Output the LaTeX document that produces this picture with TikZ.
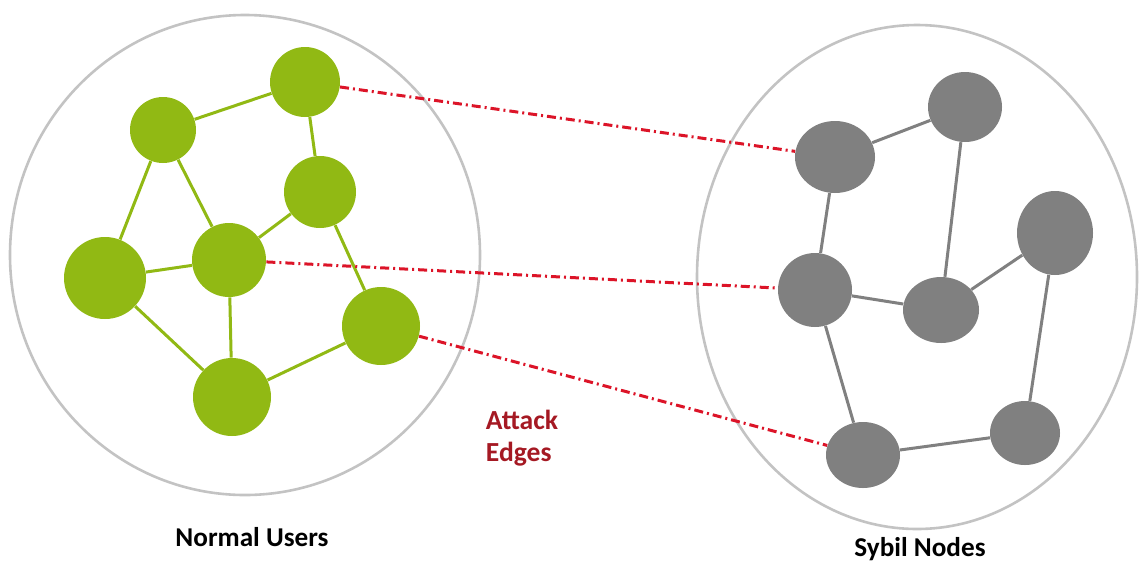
\documentclass[tikz,border=0pt]{standalone}
\usepackage{fontspec}
\setmainfont{Carlito}
\usetikzlibrary{shapes.geometric}
\definecolor{ugreen}{RGB}{145,185,20}
\definecolor{sgray}{RGB}{128,128,128}
\definecolor{ringgray}{RGB}{195,195,195}
\definecolor{atkred}{RGB}{220,20,40}
\definecolor{lblred}{RGB}{165,25,35}
\begin{document}
\begin{tikzpicture}[x=0.5pt,y=-0.5pt,
  ring/.style={draw=ringgray,line width=1.3pt,ellipse,inner sep=0pt},
  user/.style={circle,fill=ugreen,inner sep=0pt},
  sybil/.style={ellipse,fill=sgray,inner sep=0pt},
  uedge/.style={draw=ugreen,line width=1.5pt},
  sedge/.style={draw=sgray,line width=1.5pt},
  attack/.style={draw=atkred,line width=1.5pt,dash pattern=on 4.5pt off 2pt on 1pt off 2pt},
  lbl/.style={font=\bfseries\fontsize{13.6}{15}\selectfont,text=black}]
\useasboundingbox (0,0) rectangle (1144,563);
% rings
\node[ring,minimum width=235pt,minimum height=240pt] (L) at (245,255) {};
\node[ring,minimum width=220pt,minimum height=252pt] (R) at (917,277) {};
% user nodes
\node[user,minimum size=35pt] (A) at (305,82) {};
\node[user,minimum size=33pt] (B) at (163,130) {};
\node[user,minimum size=36pt] (C) at (320,192) {};
\node[user,minimum size=37pt] (D) at (229,260) {};
\node[user,minimum size=41pt] (E) at (105,278) {};
\node[user,minimum size=39pt] (F) at (381,326) {};
\node[user,minimum size=39pt] (G) at (232,397) {};
% sybil nodes
\node[sybil,minimum width=40pt,minimum height=36pt] (P) at (835,157) {};
\node[sybil,minimum width=37pt,minimum height=35pt] (Q) at (965,107) {};
\node[sybil,minimum width=38pt,minimum height=42pt] (S1) at (1055,233) {};
\node[sybil,minimum width=37pt,minimum height=37pt] (S) at (815,290) {};
\node[sybil,minimum width=38pt,minimum height=33pt] (T) at (941,310) {};
\node[sybil,minimum width=37pt,minimum height=33pt] (U) at (863,455) {};
\node[sybil,minimum width=35pt,minimum height=32pt] (V) at (1025,433) {};
% user edges
\path[uedge] (A) -- (B);
\path[uedge] (A) -- (C);
\path[uedge] (B) -- (E);
\path[uedge] (B) -- (D);
\path[uedge] (C) -- (D);
\path[uedge] (C) -- (F);
\path[uedge] (D) -- (E);
\path[uedge] (D) -- (G);
\path[uedge] (E) -- (G);
\path[uedge] (F) -- (G);
% sybil edges
\path[sedge] (P) -- (Q);
\path[sedge] (P) -- (S);
\path[sedge] (Q) -- (T);
\path[sedge] (S1) -- (T);
\path[sedge] (S1) -- (V);
\path[sedge] (S) -- (T);
\path[sedge] (S) -- (U);
\path[sedge] (U) -- (V);
% attack edges
\path[attack] (A) -- (P);
\path[attack] (D) -- (S);
\path[attack] (F) -- (U);
% labels
\node[font=\bfseries\fontsize{13.8}{16}\selectfont,text=lblred,align=left] (atk) at (522,438) {Attack\\Edges};
\node[lbl] (nu) at (252,537) {Normal Users};
\node[lbl] (sn) at (920,549) {Sybil Nodes};
\end{tikzpicture}
\end{document}
